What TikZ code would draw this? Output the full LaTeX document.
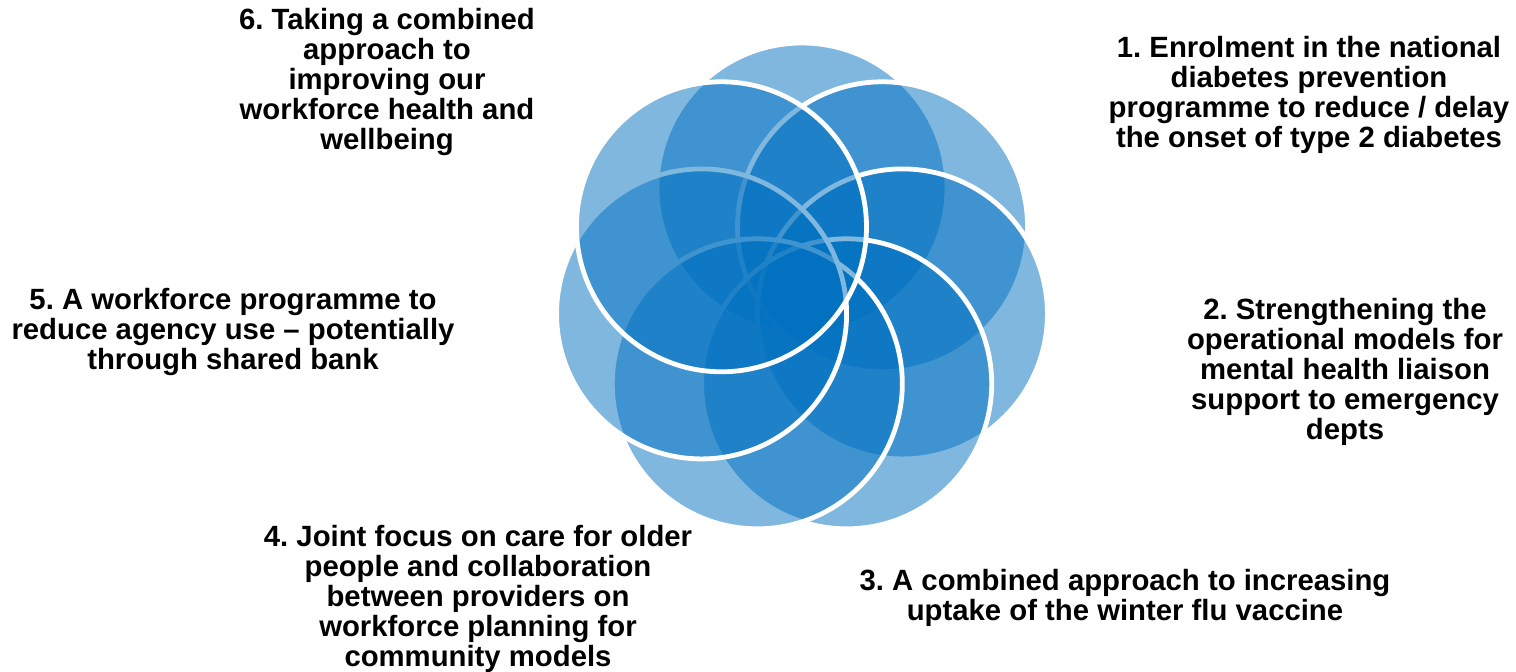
\documentclass[tikz,border=0pt]{standalone}
\usepackage{fontspec}
\setmainfont{Liberation Sans}
\definecolor{petalblue}{HTML}{0070C0}
\frenchspacing
\begin{document}
\begin{tikzpicture}[x=1pt,y=-1pt,
  petal/.style={circle, minimum size=290pt, inner sep=0pt, outer sep=0pt, draw=white, line width=4.8pt, fill=petalblue, fill opacity=0.5},
  lbl/.style={align=center, font=\fontsize{29.3}{30}\selectfont\bfseries\frenchspacing, text=black, inner sep=0pt}]
\useasboundingbox (0,0) rectangle (1516,672);
\foreach \i in {0,...,6} {
  \pgfmathsetmacro\ang{90-\i*360/7}
  \node[petal] (p\i) at ({802+103*cos(\ang)}, {291-103*sin(\ang)}) {};
}
\node[lbl] (t6) at (387,82) {6. Taking a combined\\approach to\\improving our\\workforce health and\\wellbeing};
\node[lbl] (t1) at (1309,95) {1. Enrolment in the national\\diabetes prevention\\programme to reduce / delay\\the onset of type 2 diabetes};
\node[lbl] (t2) at (1345,372) {2. Strengthening the\\operational models for\\mental health liaison\\support to emergency\\depts};
\node[lbl] (t3) at (1125,598) {3. A combined approach to increasing\\uptake of the winter flu vaccine};
\node[lbl] (t4) at (478,599) {4. Joint focus on care for older\\people and collaboration\\between providers on\\workforce planning for\\community models};
\node[lbl] (t5) at (233,332) {5. A workforce programme to\\reduce agency use -- potentially\\through shared bank};
\end{tikzpicture}
\end{document}
